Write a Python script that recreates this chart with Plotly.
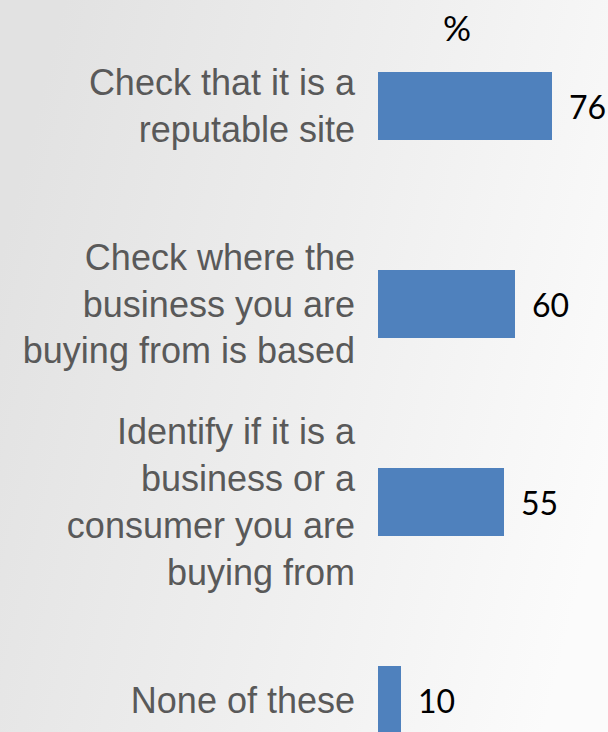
import base64
import plotly.graph_objects as go

categories = [
    "Check that it is a<br>reputable site",
    "Check where the<br>business you are<br>buying from is based",
    "Identify if it is a<br>business or a<br>consumer you are<br>buying from",
    "None of these",
]
values = [76, 60, 55, 10]
unit_label = "%"

BAR_COLOR = "#4F81BD"
LABEL_COLOR = "#595959"

W, H = 608, 732
ML, MR, MT, MB = 378, 1, 7, 0
plot_h = H - MT - MB
plot_w = W - ML - MR
cat_px = 198.0
y_bottom = -0.5 + plot_h / cat_px

svg = f'''<svg xmlns="http://www.w3.org/2000/svg" width="{W}" height="{H}" viewBox="0 0 {W} {H}" preserveAspectRatio="none">
<defs><linearGradient id="g" x1="0" y1="0.35" x2="1" y2="0.65">
<stop offset="0" stop-color="#e2e2e2"/>
<stop offset="0.5" stop-color="#eeeeee"/>
<stop offset="1" stop-color="#fbfbfb"/>
</linearGradient></defs>
<rect x="0" y="0" width="{W}" height="{H}" fill="url(#g)"/>
</svg>'''
bg_uri = "data:image/svg+xml;base64," + base64.b64encode(svg.encode()).decode()

fig = go.Figure()
fig.add_trace(go.Bar(
    x=values,
    y=categories,
    orientation="h",
    marker=dict(color=BAR_COLOR, line=dict(width=0)),
    width=68 / cat_px,
    hoverinfo="skip",
))

for v, c in zip(values, categories):
    fig.add_annotation(
        x=v, y=c, xref="x", yref="y",
        text=str(v), showarrow=False,
        xanchor="left", yanchor="middle", xshift=15,
        font=dict(family="Lato, Open Sans, sans-serif", size=32, color="#000000"),
    )

fig.add_annotation(
    x=(457 - ML) / plot_w, y=1 - (27 - MT) / plot_h,
    xref="paper", yref="paper",
    text=unit_label, showarrow=False,
    xanchor="center", yanchor="middle",
    font=dict(family="Lato, Open Sans, sans-serif", size=35, color="#000000"),
)

fig.update_layout(
    width=W, height=H,
    margin=dict(l=ML, r=MR, t=MT, b=MB, pad=0),
    paper_bgcolor="#eeeeee",
    plot_bgcolor="rgba(0,0,0,0)",
    showlegend=False,
    bargap=0,
    images=[dict(
        source=bg_uri, xref="paper", yref="paper",
        x=-ML / plot_w, y=1 + MT / plot_h,
        sizex=W / plot_w, sizey=H / plot_h,
        xanchor="left", yanchor="top",
        sizing="stretch", layer="below",
    )],
    xaxis=dict(
        range=[0, plot_w / 2.29],
        visible=False, fixedrange=True,
    ),
    yaxis=dict(
        type="category",
        categoryorder="array", categoryarray=categories,
        range=[y_bottom, -0.5],
        showgrid=False, zeroline=False, showline=False,
        ticks="", ticklabelstandoff=22,
        automargin=False,
        tickfont=dict(family="Liberation Sans, Arial, sans-serif", size=36, color=LABEL_COLOR),
        fixedrange=True,
    ),
)

fig.write_html(
    "out.html",
    config={"displayModeBar": False},
    post_script="document.body.style.margin='0';document.body.style.overflow='hidden';",
)
